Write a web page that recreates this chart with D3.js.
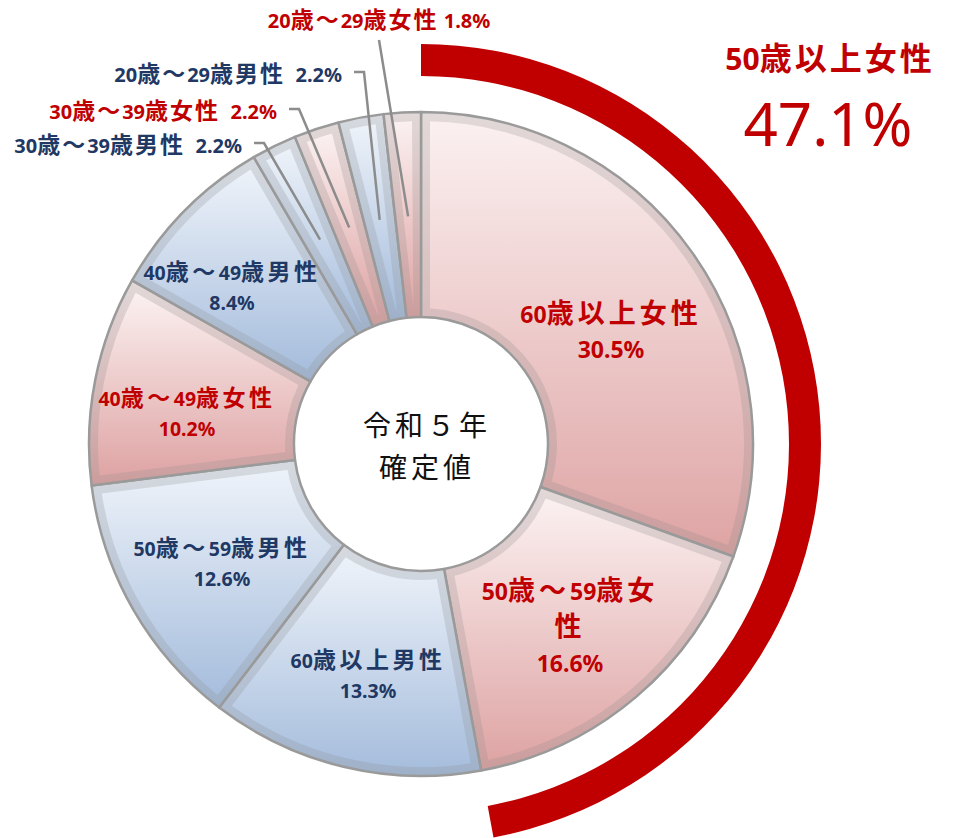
<!DOCTYPE html>
<html>
<head>
<meta charset="utf-8">
<script src="https://cdn.jsdelivr.net/npm/d3@7"></script>
<style>
  html, body { margin: 0; padding: 0; background: #ffffff; }
  svg { display: block; font-family: "Noto Sans CJK JP", "Noto Sans", sans-serif; }
  svg text { white-space: pre; }
</style>
</head>
<body>
<svg id="chart" width="965" height="838"></svg>
<script>
// Share of respondents by age group and sex (令和５年 確定値)
const categories = [
  "60歳以上女性", "50歳～59歳女性", "60歳以上男性", "50歳～59歳男性",
  "40歳～49歳女性", "40歳～49歳男性", "30歳～39歳男性", "30歳～39歳女性",
  "20歳～29歳男性", "20歳～29歳女性"
];
const sexes  = ["F", "F", "M", "M", "F", "M", "M", "F", "M", "F"];
const values = [30.5, 16.6, 13.3, 12.6, 10.2, 8.4, 2.2, 2.2, 2.2, 1.8];

// Groups summed into the highlighted outer arc
const highlightGroup = ["60歳以上女性", "50歳～59歳女性"];
const highlightTitle = "50歳以上女性";
const centerLines = ["令和５年", "確定値"];

const data = categories.map((c, i) => ({ name: c, sex: sexes[i], v: values[i] }));

const svg = d3.select("#chart");
const cx = 421, cy = 444, R = 332, R0 = 127;

const palette = {
  F: { top: "#fbf0f0", bottom: "#dfa5a5", text: "#c00000" },
  M: { top: "#edf2f9", bottom: "#a7bedd", text: "#1f3864" }
};

const defs = svg.append("defs");
Object.entries(palette).forEach(([k, p]) => {
  const g = defs.append("linearGradient").attr("id", "grad" + k)
    .attr("x1", 0).attr("y1", 0).attr("x2", 0).attr("y2", 1);
  g.append("stop").attr("offset", "0%").attr("stop-color", p.top);
  g.append("stop").attr("offset", "100%").attr("stop-color", p.bottom);
});

const pie = d3.pie().sort(null).value(d => d.v).startAngle(0).endAngle(2 * Math.PI);
const arcs = pie(data);

const outerArc = d3.arc().innerRadius(R0).outerRadius(R);
const innerArc = d3.arc().innerRadius(R0 + 9).outerRadius(R - 9).padRadius(300).padAngle(0.06);

const donut = svg.append("g").attr("transform", `translate(${cx},${cy})`);

// slice body, bevel shading, inner face, border
const slices = donut.selectAll("g.slice").data(arcs).join("g").attr("class", "slice");
slices.append("path").attr("d", outerArc).attr("fill", d => `url(#grad${d.data.sex})`);
slices.append("path").attr("d", outerArc).attr("fill", "#7f7f7f").attr("fill-opacity", 0.2);
slices.append("path").attr("d", innerArc).attr("fill", d => `url(#grad${d.data.sex})`);
slices.append("path").attr("d", outerArc).attr("fill", "none")
  .attr("stroke", "#9a9a9a").attr("stroke-width", 2.5).attr("stroke-linejoin", "round");

// highlighted outer arc for the combined group
const hlSum = d3.sum(data.filter(d => highlightGroup.includes(d.name)), d => d.v);
const total = d3.sum(values);
const hlArc = d3.arc().innerRadius(368).outerRadius(400);
donut.append("path")
  .attr("d", hlArc({ startAngle: 0, endAngle: 2 * Math.PI * hlSum / total }))
  .attr("fill", "#c00000");

// mixed-script text: CJK runs a little larger and spaced
const isAscii = /^[\x00-\x7F]+$/;
function richLine(g, str, x, yCenter, opt) {
  const t = g.append("text")
    .attr("x", x)
    .attr("y", yCenter + 0.36 * opt.cjk)
    .attr("text-anchor", opt.anchor || "middle")
    .attr("font-weight", opt.weight || 700)
    .attr("fill", opt.color);
  str.split(/([\x00-\x7F]+)/).filter(s => s.length).forEach(part => {
    const ascii = isAscii.test(part);
    t.append("tspan")
      .attr("font-size", ascii ? opt.ascii : opt.cjk)
      .attr("letter-spacing", ascii ? (opt.asciiLs || 0) : opt.cjkLs)
      .attr("font-family", ascii ? "'Noto Sans', 'Noto Sans CJK JP', sans-serif" : "'Noto Sans CJK JP', sans-serif")
      .text(part);
  });
  return t;
}

const pct = v => v.toFixed(1) + "%";

// labels inside the ring
const bigStyle = { ascii: 23, cjk: 27, cjkLs: 4 };
const smallStyle = { ascii: 19.5, cjk: 23, cjkLs: 3.5 };
const insideLabels = [
  { i: 0, x: 611, y: 313, gap: 35, style: bigStyle },
  { i: 1, x: 570, y: 590, gap: 36, style: bigStyle, wrap: 8 },
  { i: 2, x: 368, y: 660, gap: 30, style: smallStyle },
  { i: 3, x: 222, y: 548, gap: 30, style: smallStyle },
  { i: 4, x: 187, y: 398, gap: 30, style: smallStyle },
  { i: 5, x: 232, y: 272, gap: 30, style: smallStyle }
];
const labelLayer = svg.append("g");
insideLabels.forEach(l => {
  const d = data[l.i];
  const lines = l.wrap ? [d.name.slice(0, l.wrap), d.name.slice(l.wrap)] : [d.name];
  lines.push(pct(d.v));
  lines.forEach((s, k) => {
    richLine(labelLayer, s, l.x, l.y + k * l.gap, Object.assign({ color: palette[d.sex].text }, l.style));
  });
});

// labels outside the ring with leader lines
const outStyle = { ascii: 20, cjk: 23, cjkLs: 2 };
const outsideLabels = [
  { i: 6, x: 242, y: 145, sep: "  ", anchor: "end" },
  { i: 7, x: 277, y: 111, sep: "  ", anchor: "end" },
  { i: 8, x: 342, y: 74,  sep: "  ", anchor: "end" },
  { i: 9, x: 379, y: 20,  sep: " ",  anchor: "middle" }
];
const leaderR = 228;
const leaderLayer = svg.append("g");
outsideLabels.forEach(l => {
  const d = data[l.i];
  const a = arcs[l.i];
  const mid = (a.startAngle + a.endAngle) / 2;
  const tip = [cx + leaderR * Math.sin(mid), cy - leaderR * Math.cos(mid)];
  const pts = l.anchor === "end"
    ? [[l.x + 12, l.y - 2], [l.x + 22, l.y - 2], tip]
    : [[l.x, l.y + 20], tip];
  leaderLayer.append("path")
    .attr("d", d3.line()(pts))
    .attr("fill", "none").attr("stroke", "#8c8c8c").attr("stroke-width", 2.5);
  richLine(labelLayer, d.name + l.sep + pct(d.v), l.x, l.y,
    Object.assign({ color: palette[d.sex].text, anchor: l.anchor }, outStyle));
});

// center caption
centerLines.forEach((s, k) => {
  svg.append("text")
    .attr("x", cx + 6).attr("y", 426 + k * 42 + 10)
    .attr("text-anchor", "middle")
    .attr("font-size", 28).attr("letter-spacing", 4)
    .attr("font-family", "'Noto Sans CJK JP', sans-serif")
    .attr("fill", "#111").text(s);
});

// highlighted group title and total
richLine(svg, highlightTitle, 830, 58, { ascii: 30, cjk: 32, cjkLs: 3, color: "#c00000" });
svg.append("text")
  .attr("x", 828).attr("y", 146)
  .attr("text-anchor", "middle")
  .attr("font-size", 60)
  .attr("font-family", "'Noto Sans', sans-serif")
  .attr("fill", "#c00000")
  .text(pct(hlSum));
</script>
</body>
</html>
